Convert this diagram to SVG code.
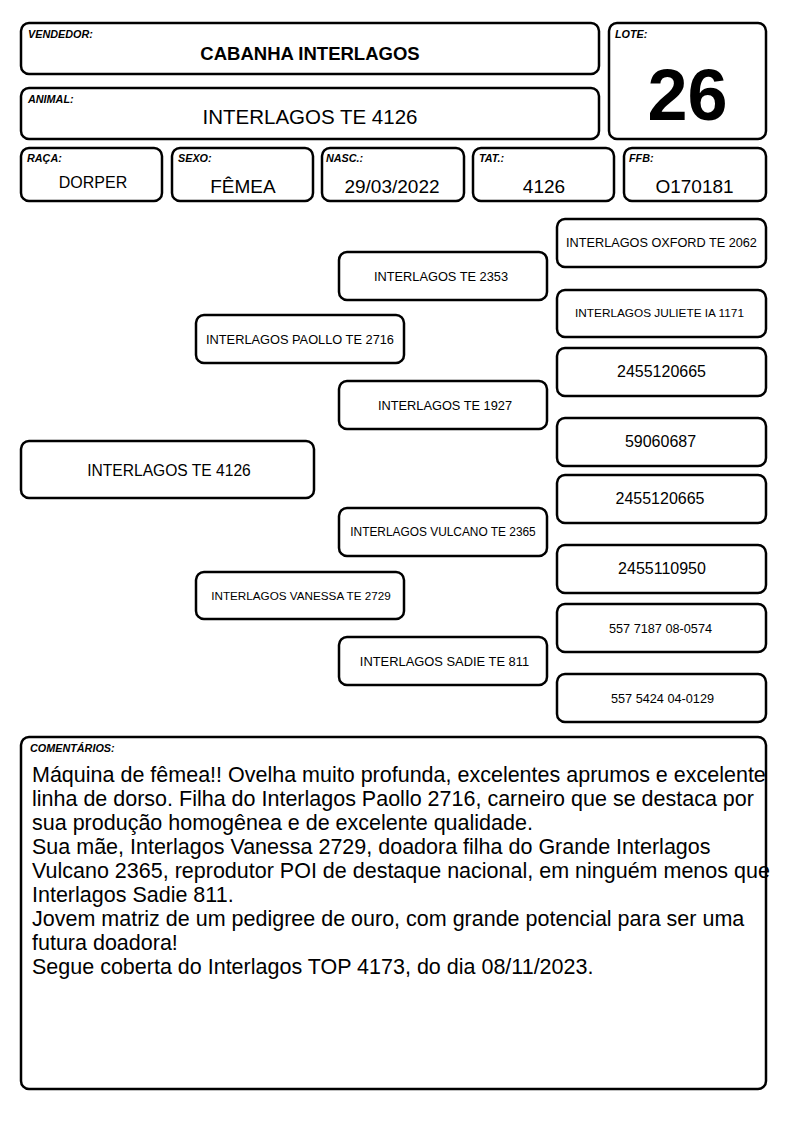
<svg xmlns="http://www.w3.org/2000/svg" width="794" height="1123" viewBox="0 0 794 1123">
<style>
.box{fill:#fff;stroke:#000;stroke-width:2.5}
.lbl{font-family:"Liberation Sans",Arial,sans-serif;font-size:10.8px;font-weight:bold;font-style:italic;fill:#000}
.t{font-family:"Liberation Sans",Arial,sans-serif;fill:#000;text-anchor:middle}
.c{font-family:"Liberation Sans",Arial,sans-serif;fill:#000;font-size:21.5px}
</style>
<rect width="794" height="1123" fill="#fff"/>
<g id="vendedor">
<rect class="box" x="21" y="23" width="578" height="51" rx="8"/>
<text class="lbl" x="28" y="38">VENDEDOR:</text>
<text class="t" x="310" y="59.5" font-size="18.5" font-weight="bold">CABANHA INTERLAGOS</text>
</g>
<g id="animal">
<rect class="box" x="21" y="88" width="578" height="51" rx="8"/>
<text class="lbl" x="28" y="103">ANIMAL:</text>
<text class="t" x="310" y="123.5" font-size="20.5">INTERLAGOS TE 4126</text>
</g>
<g id="lote">
<rect class="box" x="609" y="23" width="157" height="116" rx="8"/>
<text class="lbl" x="615" y="38">LOTE:</text>
<text class="t" x="687.5" y="120" font-size="72" font-weight="bold">26</text>
</g>
<g id="raca">
<rect class="box" x="21" y="148" width="141" height="53" rx="8"/>
<text class="lbl" x="27" y="162">RAÇA:</text>
<text class="t" x="93" y="188" font-size="16">DORPER</text>
</g>
<g id="sexo">
<rect class="box" x="172" y="148" width="141" height="53" rx="8"/>
<text class="lbl" x="178" y="162">SEXO:</text>
<text class="t" x="243" y="193" font-size="19">FÊMEA</text>
</g>
<g id="nasc">
<rect class="box" x="322" y="148" width="142" height="53" rx="8"/>
<text class="lbl" x="326" y="162">NASC.:</text>
<text class="t" x="392" y="193" font-size="19">29/03/2022</text>
</g>
<g id="tat">
<rect class="box" x="473" y="148" width="141" height="53" rx="8"/>
<text class="lbl" x="479" y="162">TAT.:</text>
<text class="t" x="544" y="193" font-size="19">4126</text>
</g>
<g id="ffb">
<rect class="box" x="624" y="148" width="142" height="53" rx="8"/>
<text class="lbl" x="629" y="162">FFB:</text>
<text class="t" x="694.5" y="193" font-size="19">O170181</text>
</g>
<g id="connectors"></g>
<g id="p-main">
<rect class="box" x="21" y="441" width="293" height="57" rx="8"/>
<text class="t" x="169" y="475.5" font-size="15.6">INTERLAGOS TE 4126</text>
</g>
<g id="p-paollo">
<rect class="box" x="196" y="315" width="208" height="48" rx="8"/>
<text class="t" x="300" y="343.6" font-size="12.8">INTERLAGOS PAOLLO TE 2716</text>
</g>
<g id="p-vanessa">
<rect class="box" x="196" y="572" width="208" height="47" rx="8"/>
<text class="t" x="301" y="599.7" font-size="11.7">INTERLAGOS VANESSA TE 2729</text>
</g>
<g id="p-2353">
<rect class="box" x="339" y="252" width="208" height="48" rx="8"/>
<text class="t" x="441" y="280.6" font-size="12.8">INTERLAGOS TE 2353</text>
</g>
<g id="p-1927">
<rect class="box" x="339" y="381" width="208" height="48" rx="8"/>
<text class="t" x="445" y="409.6" font-size="12.8">INTERLAGOS TE 1927</text>
</g>
<g id="p-vulcano">
<rect class="box" x="339" y="508" width="208" height="48" rx="8"/>
<text class="t" x="443" y="536.3" font-size="11.9">INTERLAGOS VULCANO TE 2365</text>
</g>
<g id="p-sadie">
<rect class="box" x="339" y="637" width="208" height="48" rx="8"/>
<text class="t" x="444.5" y="665.6" font-size="12.9">INTERLAGOS SADIE TE 811</text>
</g>
<g id="p-oxford">
<rect class="box" x="557" y="219" width="209" height="48" rx="8"/>
<text class="t" x="661.5" y="247" font-size="12.7">INTERLAGOS OXFORD TE 2062</text>
</g>
<g id="p-juliete">
<rect class="box" x="557" y="290" width="209" height="47" rx="8"/>
<text class="t" x="659.5" y="317.3" font-size="11.8">INTERLAGOS JULIETE IA 1171</text>
</g>
<g id="p-r3">
<rect class="box" x="557" y="348" width="209" height="48" rx="8"/>
<text class="t" x="661.5" y="377" font-size="16">2455120665</text>
</g>
<g id="p-r4">
<rect class="box" x="557" y="418" width="209" height="48" rx="8"/>
<text class="t" x="660.5" y="447" font-size="16">59060687</text>
</g>
<g id="p-r5">
<rect class="box" x="557" y="475" width="209" height="48" rx="8"/>
<text class="t" x="660" y="504" font-size="16">2455120665</text>
</g>
<g id="p-r6">
<rect class="box" x="557" y="545" width="209" height="48" rx="8"/>
<text class="t" x="662" y="574" font-size="16">2455110950</text>
</g>
<g id="p-r7">
<rect class="box" x="557" y="604" width="209" height="48" rx="8"/>
<text class="t" x="660.5" y="632.5" font-size="12.7">557 7187 08-0574</text>
</g>
<g id="p-r8">
<rect class="box" x="557" y="674" width="209" height="48" rx="8"/>
<text class="t" x="662.5" y="702.5" font-size="12.7">557 5424 04-0129</text>
</g>
<g id="comentarios">
<rect class="box" x="21" y="737" width="745" height="352" rx="8"/>
<text class="lbl" x="30" y="752">COMENTÁRIOS:</text>
<text class="c" x="32" y="782">Máquina de fêmea!! Ovelha muito profunda, excelentes aprumos e excelente</text>
<text class="c" x="32" y="806">linha de dorso. Filha do Interlagos Paollo 2716, carneiro que se destaca por</text>
<text class="c" x="32" y="830">sua produção homogênea e de excelente qualidade.</text>
<text class="c" x="32" y="854">Sua mãe, Interlagos Vanessa 2729, doadora filha do Grande Interlagos</text>
<text class="c" x="32" y="878">Vulcano 2365, reprodutor POI de destaque nacional, em ninguém menos que</text>
<text class="c" x="32" y="902">Interlagos Sadie 811.</text>
<text class="c" x="32" y="926">Jovem matriz de um pedigree de ouro, com grande potencial para ser uma</text>
<text class="c" x="32" y="950">futura doadora!</text>
<text class="c" x="32" y="974">Segue coberta do Interlagos TOP 4173, do dia 08/11/2023.</text>
</g>
</svg>
